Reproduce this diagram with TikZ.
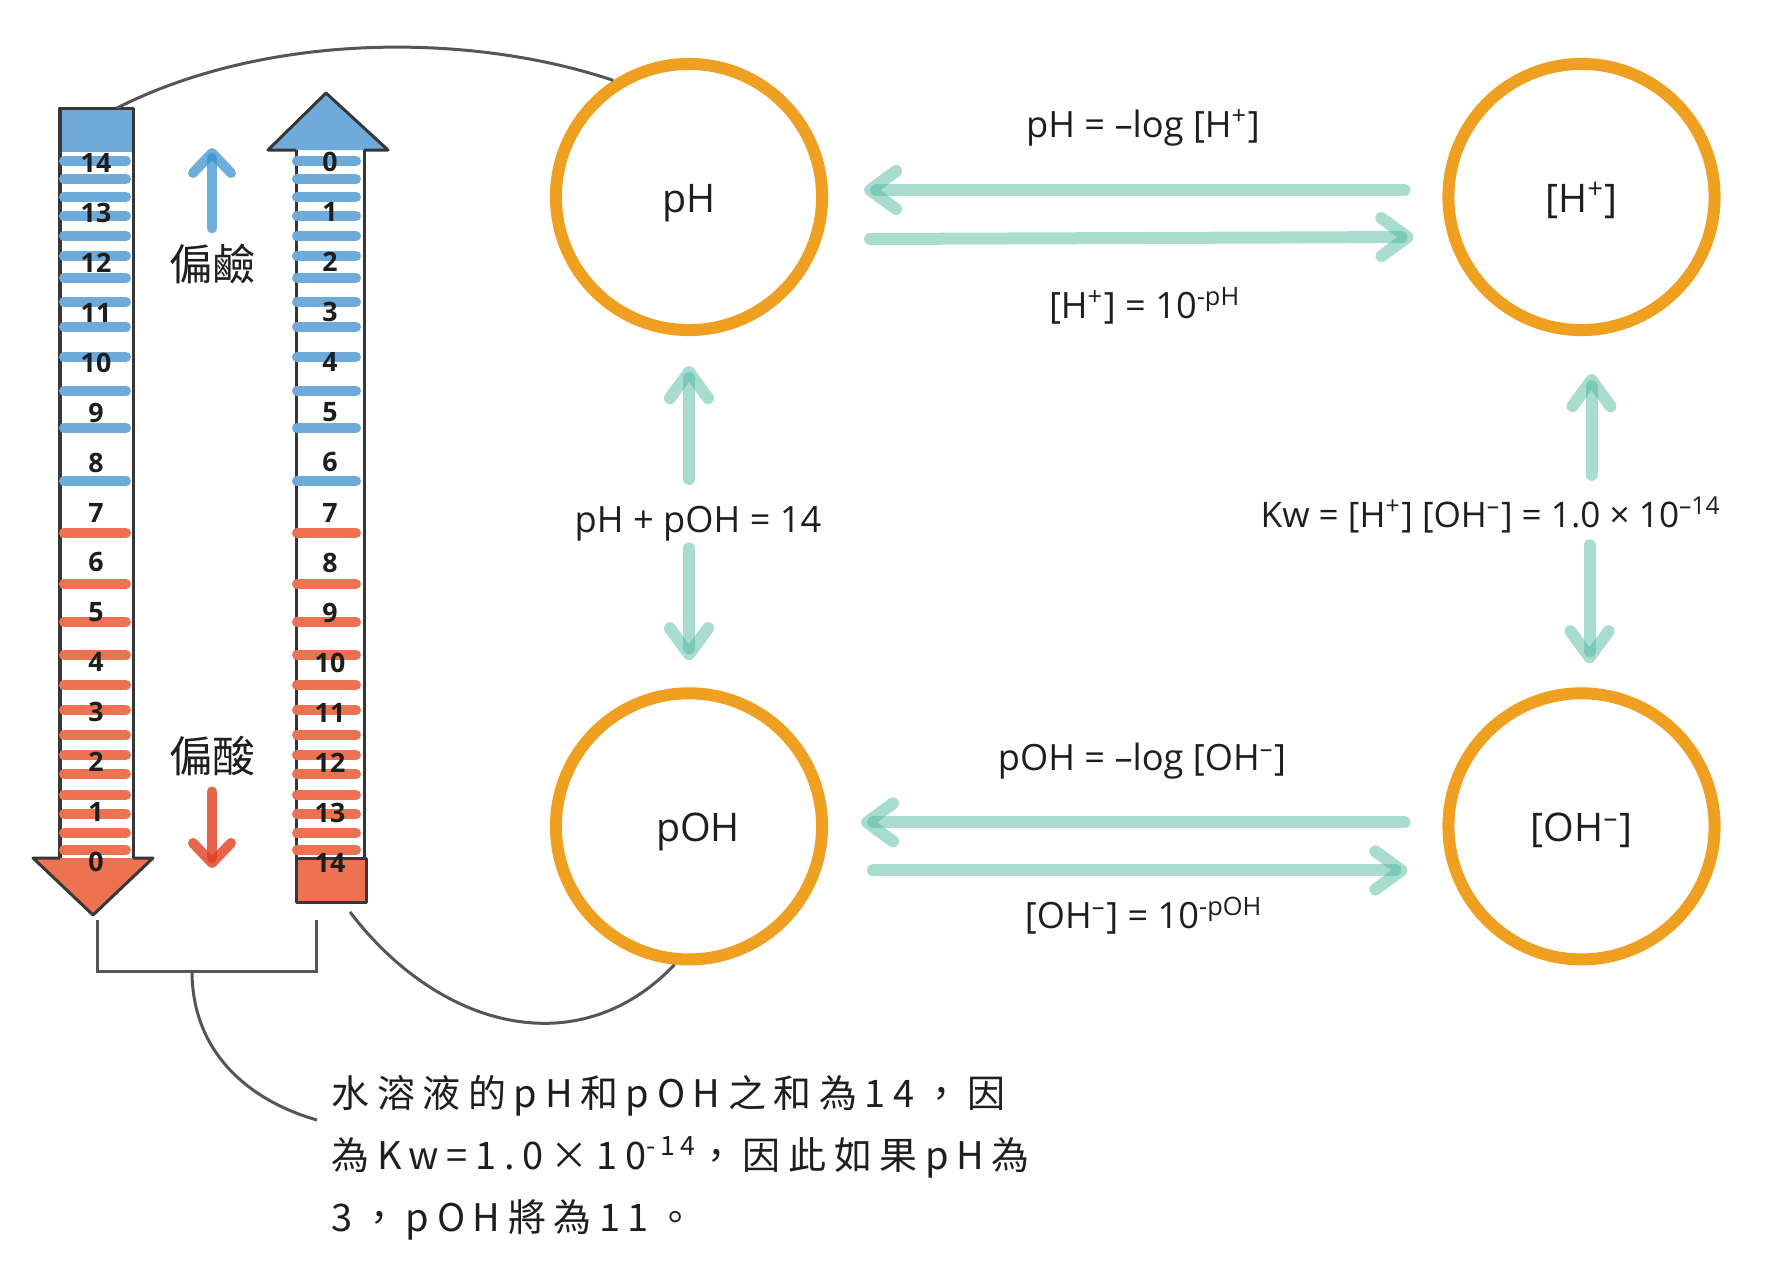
\documentclass[tikz,border=0pt]{standalone}
\usepackage{fontspec}
\setmainfont{Open Sans}
\newfontfamily\cjkfont{Noto Sans CJK TC}
\newfontfamily\notefont[LetterSpace=20]{Noto Sans CJK TC}
\usepackage{xcolor}
\usetikzlibrary{arrows.meta,positioning,calc}
\definecolor{ringorange}{RGB}{240,160,32}
\definecolor{basicblue}{RGB}{110,171,219}
\definecolor{acidred}{RGB}{236,114,82}
\definecolor{flowteal}{RGB}{80,185,160}
\definecolor{tubegrey}{RGB}{55,55,55}
\definecolor{leadgrey}{RGB}{85,85,85}
\definecolor{inkblack}{RGB}{30,30,30}
\definecolor{upblue}{RGB}{50,140,205}
\definecolor{downred}{RGB}{225,60,30}

\begin{document}
\begin{tikzpicture}[
    x=0.01cm, y=-0.01cm,
    node distance=3.51cm and 6.14cm,
    ring/.style={circle, draw=ringorange, line width=0.12cm, minimum size=2.66cm, inner sep=0pt, text height=0.3cm, text depth=0pt, text=inkblack, font=\fontsize{11.2pt}{14pt}\selectfont},
    flow/.style={draw=flowteal, draw opacity=0.5, line width=0.12cm, line cap=round, -{Straight Barb[length=0.26cm, width=0.38cm, round]}},
    eqn/.style={inner sep=0pt, anchor=base, text=inkblack, font=\fontsize{10.3pt}{12pt}\selectfont},
    tube/.style={draw=tubegrey, line width=0.03cm, line join=round},
    stripe/.style={line width=0.1cm, line cap=round},
    num/.style={inner sep=0pt, text=inkblack, font=\fontsize{7.6pt}{9pt}\selectfont\bfseries},
    hint/.style={inner sep=0pt, text=inkblack, font=\cjkfont\fontsize{12.2pt}{14pt}\selectfont},
    upnote/.style={draw=upblue, draw opacity=0.7, line width=0.1cm, line cap=round, -{Straight Barb[length=0.2cm, width=0.38cm, round]}},
    downnote/.style={draw=downred, draw opacity=0.8, line width=0.1cm, line cap=round, -{Straight Barb[length=0.2cm, width=0.38cm, round]}},
    lead/.style={draw=leadgrey, line width=0.03cm},
    note/.style={inner sep=0pt, align=left, anchor=north west, text=inkblack, font=\notefont\fontsize{10.8pt}{17.6pt}\selectfont}
]
\useasboundingbox (0,0) rectangle (1778,1269);

\fill[basicblue] (60,108) rectangle (133,152);
\draw[tube] (60,858) -- (60,108) -- (133,108) -- (133,858);
\filldraw[tube, fill=acidred] (60,858) -- (33,858) -- (93,915) -- (153,858) -- (133,858);
\filldraw[tube, fill=basicblue] (296,150) -- (268,150) -- (326,93) -- (388,150) -- (364,150);
\draw[tube] (296,150) -- (296,858);
\draw[tube] (364,150) -- (364,858);
\filldraw[tube, fill=acidred] (296,858) rectangle (366,902);

\foreach \y in {161,179,197,216,236,256,278,302,327,357,391,428,481}{
  \draw[stripe, draw=basicblue] (64,\y) -- (126,\y);
  \draw[stripe, draw=basicblue] (297,\y) -- (356,\y);
}
\foreach \y in {533,584,622,655,685,710,735,755,774,795,814,833,850}{
  \draw[stripe, draw=acidred] (64,\y) -- (126,\y);
  \draw[stripe, draw=acidred] (297,\y) -- (356,\y);
}
\foreach \v in {0,...,14}{
  \node[num] (phnum\v) at (96,{163+(14-\v)*49.93}) {\v};
  \node[num] (pohnum\v) at (330,{162+\v*50.07}) {\v};
}

\node[hint] (basic) at (212,264) {偏鹼};
\node[hint] (acidic) at (212,756) {偏酸};
\coordinate (basictip) at (212,148);
\coordinate (acidtip) at (212,868);
\draw[upnote, shorten <=0.15cm] (basic.north) -- (basictip);
\draw[downnote, shorten <=0.15cm] (acidic.south) -- (acidtip);

\node[ring] (ph) at (689,197) {pH};
\node[ring, right=of ph] (hplus) {[H\textsuperscript{+}]};
\node[ring, below=of ph] (poh) {\hspace{0.18cm}pOH};
\node[ring, right=of poh] (ohminus) {[OH\textsuperscript{–}]};

\node[eqn] (logh) at (1143,137) {pH = –log [H\textsuperscript{+}]};
\node[eqn] (powh) at (1145,318) {[H\textsuperscript{+}] = 10\textsuperscript{-pH}};
\node[eqn] (logoh) at (1142,770) {pOH = –log [OH\textsuperscript{–}]};
\node[eqn] (powoh) at (1144,928) {[OH\textsuperscript{–}] = 10\textsuperscript{-pOH}};
\node[eqn] (sumlbl) at (698,532) {pH + pOH = 14};
\node[eqn, font=\fontsize{10pt}{12pt}\selectfont] (kwlbl) at (1491,527) {Kw = [H\textsuperscript{+}] [OH\textsuperscript{–}] = 1.0 × 10\textsuperscript{–14}};

\node[note] (note) at (331,1075) {水溶液的pH和pOH之和為14，因\\為Kw=1.0×10\textsuperscript{-14}，因此如果pH為\\3，pOH將為11。};

\draw[flow] ($(hplus.west)+(-38,-7)$) -- ($(ph.east)+(36,-7)$);
\draw[flow] ($(ph.east)+(42,42)$) -- ($(hplus.west)+(-29,40)$);
\draw[flow] ($(ohminus.west)+(-38,-4)$) -- ($(poh.east)+(33,-4)$);
\draw[flow] ($(poh.east)+(45,44)$) -- ($(ohminus.west)+(-35,44)$);
\draw[flow, shorten <=0.26cm, shorten >=0.3cm] (sumlbl.north -| ph.south) -- (ph.south);
\draw[flow, shorten <=0.07cm, shorten >=0.27cm] (sumlbl.south -| poh.north) -- (poh.north);
\draw[flow, shorten <=0.21cm, shorten >=0.38cm] ($(kwlbl.north -| hplus.south)+(10,0)$) -- ($(hplus.south)+(10,0)$);
\draw[flow, shorten <=0.12cm, shorten >=0.24cm] ($(kwlbl.south -| ohminus.north)+(8,0)$) -- ($(ohminus.north)+(8,0)$);

\coordinate (phtop) at (117,108);
\coordinate (pohbottom) at (350,912);
\coordinate (brleft) at (97,920);
\coordinate (brright) at (316,920);
\coordinate (brmid) at (192,971);
\draw[lead] (phtop) .. controls +(150,-76) and +(-143,-48) .. (ph.123);
\draw[lead] (pohbottom) .. controls +(90,118) and +(-95,100) .. (poh.264);
\draw[lead] (brleft) -- ++(0,51) -| (brright);
\draw[lead] (brmid) .. controls +(0,80) and +(-70,-20) .. ($(note.north west)+(-14,45)$);
\end{tikzpicture}
\end{document}
